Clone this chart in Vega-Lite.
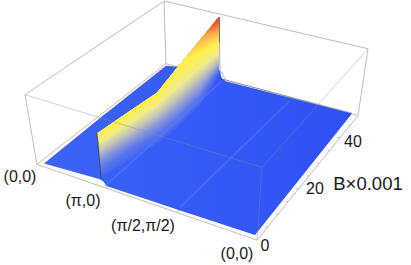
{"$schema":"https://vega.github.io/schema/vega-lite/v6.json","width":411,"height":265,"padding":0,"autosize":{"type":"fit","contains":"padding"},"background":"white","view":{"stroke":null},
"datasets":{
"backEdges":[{"x":164,"y":0,"x2":166,"y2":63},{"x":166,"y":63,"x2":37,"y2":164},{"x":166,"y":63,"x2":358,"y2":115},{"x":164,"y":0,"x2":368,"y2":48},{"x":164,"y":0,"x2":25,"y2":94},{"x":25,"y":94,"x2":37,"y2":164},{"x":368,"y":48,"x2":358,"y2":115},{"x":37,"y":164,"x2":257,"y2":240},{"x":257,"y":240,"x2":358,"y2":115},{"x":267.4,"y":227.2,"x2":265.4,"y2":226.6},{"x":277.7,"y":214.4,"x2":275.7,"y2":213.8},{"x":288.1,"y":201.6,"x2":286.1,"y2":201},{"x":298.4,"y":188.8,"x2":295.4,"y2":187.9},{"x":308.8,"y":176,"x2":306.8,"y2":175.4},{"x":319.1,"y":163.1,"x2":317.1,"y2":162.5},{"x":329.5,"y":150.3,"x2":327.5,"y2":149.7},{"x":339.8,"y":137.5,"x2":336.8,"y2":136.6},{"x":350.2,"y":124.7,"x2":348.2,"y2":124.1},{"x":107,"y":187.5,"x2":105,"y2":184},{"x":178,"y":212,"x2":180,"y2":208}],
"floor":[{"x":44,"y":163,"y2":163},{"x":100,"y":117.5,"y2":179},{"x":103,"y":115,"y2":181},{"x":107,"y":112,"y2":186},{"x":166,"y":65,"y2":205.5},{"x":177,"y":66,"y2":209.2},{"x":220,"y":70,"y2":223.4},{"x":221,"y":75,"y2":223.8},{"x":222,"y":77.5,"y2":224.1},{"x":226,"y":80.5,"y2":225.4},{"x":255,"y":88,"y2":235},{"x":352,"y":113,"y2":113}],
"surface":[
{"t":0.025,"x":97,"y":133,"y2":134},{"t":0.025,"x":100,"y":131,"y2":178},{"t":0.025,"x":130,"y":110.5,"y2":160},{"t":0.025,"x":157,"y":92,"y2":143},{"t":0.025,"x":178,"y":66,"y2":127},{"t":0.025,"x":200,"y":39.2,"y2":105},{"t":0.025,"x":219,"y":16,"y2":74},
{"t":0.05,"x":97,"y":133,"y2":134},{"t":0.05,"x":100,"y":131,"y2":176},{"t":0.05,"x":130,"y":110.5,"y2":157},{"t":0.05,"x":157,"y":92,"y2":140},{"t":0.05,"x":178,"y":66,"y2":124},{"t":0.05,"x":200,"y":39.2,"y2":102},{"t":0.05,"x":219,"y":16,"y2":72},
{"t":0.075,"x":97,"y":133,"y2":134},{"t":0.075,"x":100,"y":131,"y2":173},{"t":0.075,"x":130,"y":110.5,"y2":153.5},{"t":0.075,"x":157,"y":92,"y2":137},{"t":0.075,"x":178,"y":66,"y2":121},{"t":0.075,"x":200,"y":39.2,"y2":99.5},{"t":0.075,"x":219,"y":16,"y2":70.5},
{"t":0.1,"x":97,"y":133,"y2":134},{"t":0.1,"x":100,"y":131,"y2":170},{"t":0.1,"x":130,"y":110.5,"y2":150},{"t":0.1,"x":157,"y":92,"y2":134},{"t":0.1,"x":178,"y":66,"y2":118},{"t":0.1,"x":200,"y":39.2,"y2":97},{"t":0.1,"x":219,"y":16,"y2":69},
{"t":0.125,"x":97,"y":133,"y2":134},{"t":0.125,"x":100,"y":131,"y2":167},{"t":0.125,"x":130,"y":110.5,"y2":147.5},{"t":0.125,"x":157,"y":92,"y2":131.5},{"t":0.125,"x":178,"y":66,"y2":115.5},{"t":0.125,"x":200,"y":39.2,"y2":94.5},{"t":0.125,"x":219,"y":16,"y2":68},
{"t":0.15,"x":97,"y":133,"y2":134},{"t":0.15,"x":100,"y":131,"y2":164},{"t":0.15,"x":130,"y":110.5,"y2":145},{"t":0.15,"x":157,"y":92,"y2":129},{"t":0.15,"x":178,"y":66,"y2":113},{"t":0.15,"x":200,"y":39.2,"y2":92},{"t":0.15,"x":219,"y":16,"y2":67},
{"t":0.175,"x":97,"y":133,"y2":134},{"t":0.175,"x":100,"y":131,"y2":161.5},{"t":0.175,"x":130,"y":110.5,"y2":143},{"t":0.175,"x":157,"y":92,"y2":126.5},{"t":0.175,"x":178,"y":66,"y2":110.5},{"t":0.175,"x":200,"y":39.2,"y2":90},{"t":0.175,"x":219,"y":16,"y2":66},
{"t":0.2,"x":97,"y":133,"y2":134},{"t":0.2,"x":100,"y":131,"y2":159},{"t":0.2,"x":130,"y":110.5,"y2":141},{"t":0.2,"x":157,"y":92,"y2":124},{"t":0.2,"x":178,"y":66,"y2":108},{"t":0.2,"x":200,"y":39.2,"y2":88},{"t":0.2,"x":219,"y":16,"y2":65},
{"t":0.225,"x":97,"y":133,"y2":134},{"t":0.225,"x":100,"y":131,"y2":157},{"t":0.225,"x":130,"y":110.5,"y2":139},{"t":0.225,"x":157,"y":92,"y2":122},{"t":0.225,"x":178,"y":66,"y2":105.5},{"t":0.225,"x":200,"y":39.2,"y2":85.5},{"t":0.225,"x":219,"y":16,"y2":64},
{"t":0.25,"x":97,"y":133,"y2":134},{"t":0.25,"x":100,"y":131,"y2":155},{"t":0.25,"x":130,"y":110.5,"y2":137},{"t":0.25,"x":157,"y":92,"y2":120},{"t":0.25,"x":178,"y":66,"y2":103},{"t":0.25,"x":200,"y":39.2,"y2":83},{"t":0.25,"x":219,"y":16,"y2":63},
{"t":0.275,"x":97,"y":133,"y2":134},{"t":0.275,"x":100,"y":131,"y2":153},{"t":0.275,"x":130,"y":110.5,"y2":135},{"t":0.275,"x":157,"y":92,"y2":118},{"t":0.275,"x":178,"y":66,"y2":100.5},{"t":0.275,"x":200,"y":39.2,"y2":80.5},{"t":0.275,"x":219,"y":16,"y2":61.5},
{"t":0.3,"x":97,"y":133,"y2":134},{"t":0.3,"x":100,"y":131,"y2":151},{"t":0.3,"x":130,"y":110.5,"y2":133},{"t":0.3,"x":157,"y":92,"y2":116},{"t":0.3,"x":178,"y":66,"y2":98},{"t":0.3,"x":200,"y":39.2,"y2":78},{"t":0.3,"x":219,"y":16,"y2":60},
{"t":0.325,"x":97,"y":133,"y2":134},{"t":0.325,"x":100,"y":131,"y2":149},{"t":0.325,"x":130,"y":110.5,"y2":130.5},{"t":0.325,"x":157,"y":92,"y2":113.5},{"t":0.325,"x":178,"y":66,"y2":95.5},{"t":0.325,"x":200,"y":39.2,"y2":75.5},{"t":0.325,"x":219,"y":16,"y2":58.5},
{"t":0.35,"x":97,"y":133,"y2":134},{"t":0.35,"x":100,"y":131,"y2":147},{"t":0.35,"x":130,"y":110.5,"y2":128},{"t":0.35,"x":157,"y":92,"y2":111},{"t":0.35,"x":178,"y":66,"y2":93},{"t":0.35,"x":200,"y":39.2,"y2":73},{"t":0.35,"x":219,"y":16,"y2":57},
{"t":0.375,"x":97,"y":133,"y2":134},{"t":0.375,"x":100,"y":131,"y2":145},{"t":0.375,"x":130,"y":110.5,"y2":125.5},{"t":0.375,"x":157,"y":92,"y2":108.5},{"t":0.375,"x":178,"y":66,"y2":90},{"t":0.375,"x":200,"y":39.2,"y2":70.5},{"t":0.375,"x":219,"y":16,"y2":55},
{"t":0.4,"x":97,"y":133,"y2":134},{"t":0.4,"x":100,"y":131,"y2":143},{"t":0.4,"x":130,"y":110.5,"y2":123},{"t":0.4,"x":157,"y":92,"y2":106},{"t":0.4,"x":178,"y":66,"y2":87},{"t":0.4,"x":200,"y":39.2,"y2":68},{"t":0.4,"x":219,"y":16,"y2":53},
{"t":0.425,"x":97,"y":133,"y2":134},{"t":0.425,"x":100,"y":131,"y2":141},{"t":0.425,"x":130,"y":110.5,"y2":120.5},{"t":0.425,"x":157,"y":92,"y2":103.5},{"t":0.425,"x":178,"y":66,"y2":83.5},{"t":0.425,"x":200,"y":39.2,"y2":65},{"t":0.425,"x":219,"y":16,"y2":50.5},
{"t":0.45,"x":97,"y":133,"y2":134},{"t":0.45,"x":100,"y":131,"y2":139},{"t":0.45,"x":130,"y":110.5,"y2":118},{"t":0.45,"x":157,"y":92,"y2":101},{"t":0.45,"x":178,"y":66,"y2":80},{"t":0.45,"x":200,"y":39.2,"y2":62},{"t":0.45,"x":219,"y":16,"y2":48},
{"t":0.475,"x":97,"y":133,"y2":134},{"t":0.475,"x":100,"y":131,"y2":137.5},{"t":0.475,"x":130,"y":110.5,"y2":116},{"t":0.475,"x":157,"y":92,"y2":99},{"t":0.475,"x":178,"y":66,"y2":75},{"t":0.475,"x":200,"y":39.2,"y2":58.5},{"t":0.475,"x":219,"y":16,"y2":45.5},
{"t":0.5,"x":97,"y":133,"y2":134},{"t":0.5,"x":100,"y":131,"y2":136},{"t":0.5,"x":130,"y":110.5,"y2":114},{"t":0.5,"x":157,"y":92,"y2":97},{"t":0.5,"x":178,"y":66,"y2":70},{"t":0.5,"x":200,"y":39.2,"y2":55},{"t":0.5,"x":219,"y":16,"y2":43},
{"t":0.525,"x":182,"y":61.1,"y2":61.1},{"t":0.525,"x":219,"y":16,"y2":41},
{"t":0.55,"x":186,"y":56.2,"y2":56.2},{"t":0.55,"x":219,"y":16,"y2":39},
{"t":0.575,"x":189,"y":52.6,"y2":52.6},{"t":0.575,"x":219,"y":16,"y2":37.5},
{"t":0.6,"x":192,"y":48.9,"y2":48.9},{"t":0.6,"x":219,"y":16,"y2":36},
{"t":0.625,"x":194.5,"y":45.9,"y2":45.9},{"t":0.625,"x":219,"y":16,"y2":34.5},
{"t":0.65,"x":197,"y":42.8,"y2":42.8},{"t":0.65,"x":219,"y":16,"y2":33},
{"t":0.675,"x":199.5,"y":39.8,"y2":39.8},{"t":0.675,"x":219,"y":16,"y2":32},
{"t":0.7,"x":202,"y":36.7,"y2":36.7},{"t":0.7,"x":219,"y":16,"y2":31},
{"t":0.725,"x":203.5,"y":34.9,"y2":34.9},{"t":0.725,"x":219,"y":16,"y2":29.5},
{"t":0.75,"x":205,"y":33,"y2":33},{"t":0.75,"x":219,"y":16,"y2":28},
{"t":0.775,"x":206,"y":31.8,"y2":31.8},{"t":0.775,"x":219,"y":16,"y2":27},
{"t":0.8,"x":207,"y":30.6,"y2":30.6},{"t":0.8,"x":219,"y":16,"y2":26},
{"t":0.825,"x":208.5,"y":28.8,"y2":28.8},{"t":0.825,"x":219,"y":16,"y2":25},
{"t":0.85,"x":210,"y":27,"y2":27},{"t":0.85,"x":219,"y":16,"y2":24},
{"t":0.875,"x":211.5,"y":25.1,"y2":25.1},{"t":0.875,"x":219,"y":16,"y2":22.5},
{"t":0.9,"x":213,"y":23.3,"y2":23.3},{"t":0.9,"x":219,"y":16,"y2":21},
{"t":0.925,"x":214.5,"y":21.5,"y2":21.5},{"t":0.925,"x":219,"y":16,"y2":19.5},
{"t":0.95,"x":216,"y":19.6,"y2":19.6},{"t":0.95,"x":219,"y":16,"y2":18}],
"streaks":[{"x":107,"y":184,"x2":222,"y2":80},{"x":180,"y":207,"x2":290,"y2":100}],
"darkEdges":[{"x":97,"y":133,"x2":101,"y2":178,"o":0.75},{"x":219.5,"y":16,"x2":219.5,"y2":42,"o":0.7},{"x":219.5,"y":42,"x2":220,"y2":70,"o":0.4},{"x":220,"y":70,"x2":226,"y2":79.5,"o":0.35},{"x":226,"y":79.5,"x2":352,"y2":112.5,"o":0.3}],
"frontEdges":[{"x":25,"y":94,"x2":262,"y2":167},{"x":262,"y":167,"x2":368,"y2":48},{"x":262,"y":167,"x2":257,"y2":240}],
"ticks":[{"label":"(0,0)","x":20,"y":177},{"label":"(π,0)","x":83,"y":201},{"label":"(π/2,π/2)","x":143,"y":226},{"label":"(0,0)","x":237,"y":254},{"label":"0","x":265,"y":246},{"label":"20","x":315,"y":189},{"label":"40","x":353,"y":142}],
"title":[{"label":"B×0.001","x":368,"y":184}]
},
"encoding":{
"x":{"field":"x","type":"quantitative","scale":{"domain":[0,411],"nice":false,"zero":false},"axis":null},
"y":{"field":"y","type":"quantitative","scale":{"domain":[265,0],"nice":false,"zero":false},"axis":null}
},
"layer":[
{"data":{"name":"backEdges"},"mark":{"type":"rule","stroke":"#bdbdbd","strokeWidth":1},"encoding":{"x2":{"field":"x2"},"y2":{"field":"y2"}}},
{"data":{"name":"floor"},"mark":{"type":"area","color":{"gradient":"linear","x1":0,"y1":0,"x2":1,"y2":0,"stops":[{"offset":0,"color":"#3B64F5"},{"offset":1,"color":"#2F50F6"}]}},"encoding":{"y2":{"field":"y2"}}},
{"data":{"name":"surface"},"mark":{"type":"area","interpolate":"linear"},"encoding":{"y2":{"field":"y2"},"detail":{"field":"t","type":"ordinal"},"color":{"field":"t","type":"quantitative","legend":null,"scale":{"domain":[0,0.1,0.2,0.3,0.4,0.5,0.7,0.85,1],"range":["#3A5FF5","#5E78EC","#8E9CD8","#C4C4B8","#F0EC8C","#FFF050","#FDA848","#F06A3A","#DC2E2E"],"interpolate":"rgb"}}}},
{"data":{"name":"streaks"},"mark":{"type":"rule","stroke":"#5C82F8","strokeWidth":2,"opacity":0.4},"encoding":{"x2":{"field":"x2"},"y2":{"field":"y2"}}},
{"data":{"name":"darkEdges"},"mark":{"type":"rule","stroke":"#333333","strokeWidth":1},"encoding":{"x2":{"field":"x2"},"y2":{"field":"y2"},"opacity":{"field":"o","type":"quantitative","legend":null,"scale":{"domain":[0,1],"range":[0,1]}}}},
{"data":{"name":"frontEdges"},"mark":{"type":"rule","stroke":"#8a8a8a","strokeWidth":1,"opacity":0.4},"encoding":{"x2":{"field":"x2"},"y2":{"field":"y2"}}},
{"data":{"name":"ticks"},"mark":{"type":"text","font":"Liberation Sans","fontSize":16,"color":"#1a1a1a","align":"center","baseline":"middle"},"encoding":{"text":{"field":"label"}}},
{"data":{"name":"title"},"mark":{"type":"text","font":"Liberation Sans","fontSize":18.5,"color":"#1a1a1a","align":"center","baseline":"middle"},"encoding":{"text":{"field":"label"}}}
]}
